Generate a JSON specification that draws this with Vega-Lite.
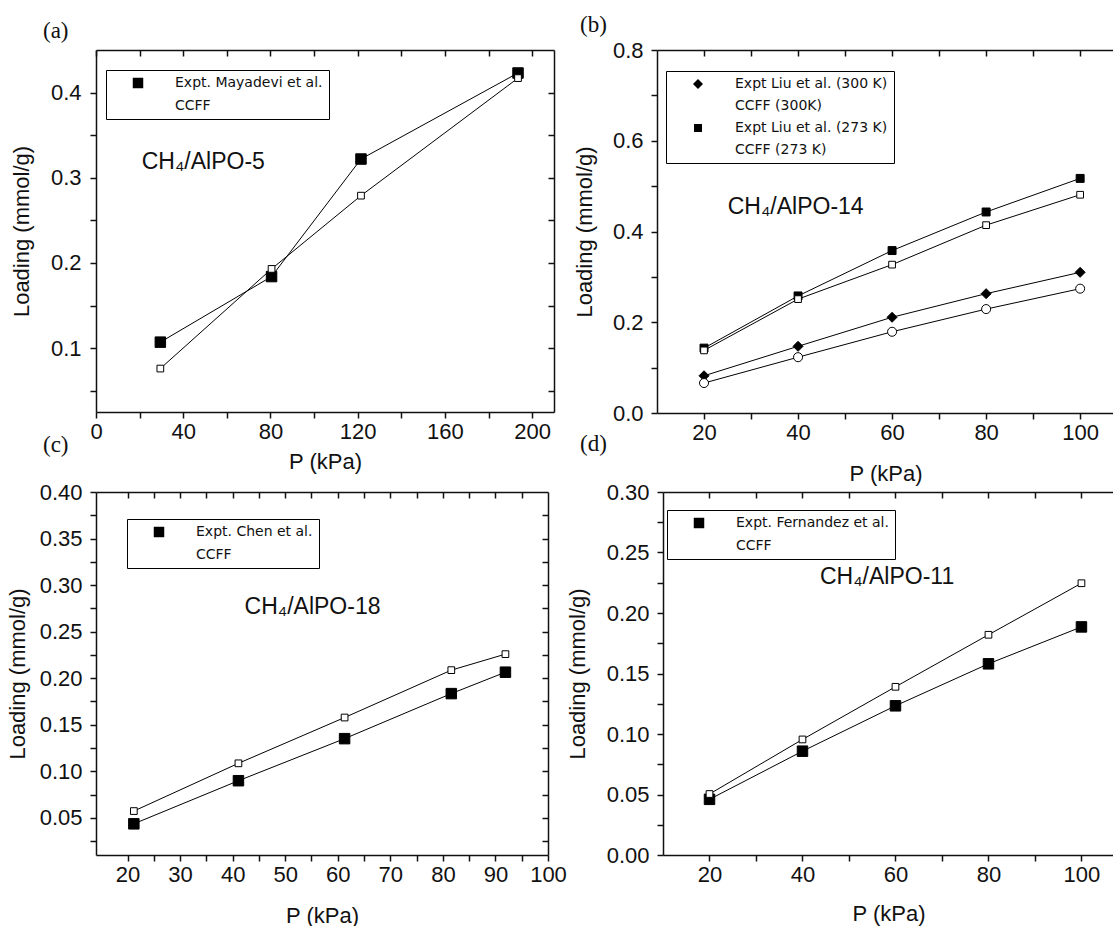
{
  "$schema": "https://vega.github.io/schema/vega-lite/v6.json",
  "background": "white",
  "padding": {"left": 6, "top": 14, "right": 0, "bottom": 0},
  "datasets": {
    "a": [
      {"P": 29.5, "L": 0.107, "s": "Expt. Mayadevi et al."},
      {"P": 80.5, "L": 0.184, "s": "Expt. Mayadevi et al."},
      {"P": 121.5, "L": 0.322, "s": "Expt. Mayadevi et al."},
      {"P": 193.5, "L": 0.423, "s": "Expt. Mayadevi et al."},
      {"P": 29.5, "L": 0.076, "s": "CCFF"},
      {"P": 80.5, "L": 0.193, "s": "CCFF"},
      {"P": 121.5, "L": 0.279, "s": "CCFF"},
      {"P": 193.5, "L": 0.417, "s": "CCFF"}
    ],
    "b": [
      {"P": 20, "L": 0.082, "s": "Expt Liu et al. (300 K)"},
      {"P": 40, "L": 0.147, "s": "Expt Liu et al. (300 K)"},
      {"P": 60, "L": 0.211, "s": "Expt Liu et al. (300 K)"},
      {"P": 80, "L": 0.263, "s": "Expt Liu et al. (300 K)"},
      {"P": 100, "L": 0.310, "s": "Expt Liu et al. (300 K)"},
      {"P": 20, "L": 0.066, "s": "CCFF (300K)"},
      {"P": 40, "L": 0.123, "s": "CCFF (300K)"},
      {"P": 60, "L": 0.179, "s": "CCFF (300K)"},
      {"P": 80, "L": 0.229, "s": "CCFF (300K)"},
      {"P": 100, "L": 0.274, "s": "CCFF (300K)"},
      {"P": 20, "L": 0.143, "s": "Expt Liu et al. (273 K)"},
      {"P": 40, "L": 0.258, "s": "Expt Liu et al. (273 K)"},
      {"P": 60, "L": 0.358, "s": "Expt Liu et al. (273 K)"},
      {"P": 80, "L": 0.443, "s": "Expt Liu et al. (273 K)"},
      {"P": 100, "L": 0.517, "s": "Expt Liu et al. (273 K)"},
      {"P": 20, "L": 0.138, "s": "CCFF (273 K)"},
      {"P": 40, "L": 0.251, "s": "CCFF (273 K)"},
      {"P": 60, "L": 0.327, "s": "CCFF (273 K)"},
      {"P": 80, "L": 0.414, "s": "CCFF (273 K)"},
      {"P": 100, "L": 0.481, "s": "CCFF (273 K)"}
    ],
    "c": [
      {"P": 21.2, "L": 0.0435, "s": "Expt. Chen et al."},
      {"P": 41.1, "L": 0.0898, "s": "Expt. Chen et al."},
      {"P": 61.3, "L": 0.135, "s": "Expt. Chen et al."},
      {"P": 81.6, "L": 0.1834, "s": "Expt. Chen et al."},
      {"P": 91.9, "L": 0.2064, "s": "Expt. Chen et al."},
      {"P": 21.2, "L": 0.0572, "s": "CCFF"},
      {"P": 41.1, "L": 0.1085, "s": "CCFF"},
      {"P": 61.3, "L": 0.1577, "s": "CCFF"},
      {"P": 81.6, "L": 0.2086, "s": "CCFF"},
      {"P": 91.9, "L": 0.2258, "s": "CCFF"}
    ],
    "d": [
      {"P": 20, "L": 0.046, "s": "Expt. Fernandez et al."},
      {"P": 40, "L": 0.0858, "s": "Expt. Fernandez et al."},
      {"P": 60, "L": 0.1233, "s": "Expt. Fernandez et al."},
      {"P": 80, "L": 0.158, "s": "Expt. Fernandez et al."},
      {"P": 100, "L": 0.1885, "s": "Expt. Fernandez et al."},
      {"P": 20, "L": 0.0504, "s": "CCFF"},
      {"P": 40, "L": 0.0955, "s": "CCFF"},
      {"P": 60, "L": 0.139, "s": "CCFF"},
      {"P": 80, "L": 0.182, "s": "CCFF"},
      {"P": 100, "L": 0.2246, "s": "CCFF"}
    ]
  },
  "config": {
    "view": {"stroke": null},
    "font": "Liberation Sans",
    "axis": {
      "domainColor": "#111", "domainWidth": 1.5, "tickColor": "#111", "tickWidth": 1.5, "tickSize": 6,
      "labelFont": "Liberation Sans", "labelFontSize": 22, "labelColor": "#111", "labelPadding": 3,
      "titleFont": "Liberation Sans", "titleFontSize": 22, "titleFontWeight": "normal", "titleColor": "#111",
      "grid": false, "labelOverlap": false, "labelFlush": false, "labelBound": false
    },
    "title": {"font": "Liberation Serif", "fontSize": 23, "fontWeight": "normal", "color": "#111", "anchor": "start", "frame": "group"},
    "legend": {
      "strokeColor": "black", "fillColor": "white", "padding": 6,
      "labelFont": "DejaVu Sans", "labelFontSize": 14, "labelColor": "#111", "labelLimit": 400,
      "labelOffset": 30, "symbolOffset": 19, "symbolSize": 100, "rowPadding": 8,
      "symbolStrokeColor": "black", "symbolStrokeWidth": 1
    }
  },
  "spacing": -51,
  "resolve": {
    "scale": {"shape": "independent", "fill": "independent", "size": "independent"},
    "legend": {"shape": "independent", "fill": "independent", "size": "independent"}
  },
  "vconcat": [
    {
      "bounds": "flush",
      "spacing": 103,
      "resolve": {
        "scale": {"shape": "independent", "fill": "independent", "size": "independent"},
        "legend": {"shape": "independent", "fill": "independent", "size": "independent"}
      },
      "hconcat": [
        {
          "width": 458, "height": 362,
          "title": {"text": "(a)", "dx": -53, "offset": 6},
          "data": {"name": "a"},
          "layer": [
            {
              "mark": {"type": "line", "color": "black", "strokeWidth": 1},
              "encoding": {
                "x": {"field": "P", "type": "quantitative", "scale": {"domain": [0, 210], "nice": false, "zero": false},
                  "axis": {"orient": "bottom", "title": "P (kPa)", "values": [0, 20, 40, 60, 80, 100, 120, 140, 160, 180, 200], "labelExpr": "datum.value % 40 === 0 ? datum.label : ''", "titlePadding": 9}},
                "y": {"field": "L", "type": "quantitative", "scale": {"domain": [0.025, 0.45], "nice": false, "zero": false},
                  "axis": {"orient": "left", "title": "Loading (mmol/g)", "values": [0.05, 0.1, 0.15, 0.2, 0.25, 0.3, 0.35, 0.4], "format": ".1f", "labelExpr": "abs(datum.value*10 - round(datum.value*10)) < 0.001 ? datum.label : ''", "labelPadding": 9, "titlePadding": 17}},
                "detail": {"field": "s", "type": "nominal"}
              }
            },
            {
              "mark": {"type": "point", "stroke": "black", "strokeWidth": 1, "opacity": 1},
              "encoding": {
                "x": {"field": "P", "type": "quantitative", "axis": {"orient": "top", "labels": false, "title": null, "tickSize": -6, "values": [0, 20, 40, 60, 80, 100, 120, 140, 160, 180, 200]}},
                "y": {"field": "L", "type": "quantitative", "axis": {"orient": "right", "labels": false, "title": null, "tickSize": -6, "values": [0.05, 0.1, 0.15, 0.2, 0.25, 0.3, 0.35, 0.4]}},
                "shape": {"field": "s", "type": "nominal", "scale": {"domain": ["Expt. Mayadevi et al.", "CCFF"], "range": ["square", "square"]},
                  "legend": {"title": null, "orient": "none", "legendX": 10, "legendY": 20}},
                "fill": {"field": "s", "type": "nominal", "scale": {"domain": ["Expt. Mayadevi et al.", "CCFF"], "range": ["black", "white"]},
                  "legend": {"title": null, "orient": "none", "legendX": 10, "legendY": 20}},
                "size": {"field": "s", "type": "nominal", "scale": {"domain": ["Expt. Mayadevi et al.", "CCFF"], "range": [110, 45]},
                  "legend": {"title": null, "orient": "none", "legendX": 10, "legendY": 20}}
              }
            },
            {
              "data": {"values": [{"label": "CH₄/AlPO-5"}]},
              "mark": {"type": "text", "font": "Liberation Sans", "fontSize": 23, "color": "#111", "align": "center", "baseline": "middle"},
              "encoding": {
                "x": {"datum": 49.2, "type": "quantitative", "axis": null},
                "y": {"datum": 0.319, "type": "quantitative", "axis": null},
                "text": {"field": "label", "type": "nominal"}
              }
            }
          ],
          "resolve": {"axis": {"x": "independent", "y": "independent"}}
        },
        {
          "width": 457, "height": 363,
          "title": {"text": "(b)", "dx": -77, "offset": 2},
          "data": {"name": "b"},
          "layer": [
            {
              "mark": {"type": "line", "color": "black", "strokeWidth": 1},
              "encoding": {
                "x": {"field": "P", "type": "quantitative", "scale": {"domain": [10, 107.2], "nice": false, "zero": false},
                  "axis": {"orient": "bottom", "title": "P (kPa)", "values": [20, 30, 40, 50, 60, 70, 80, 90, 100], "labelExpr": "datum.value % 20 === 0 ? datum.label : ''", "titlePadding": 20}},
                "y": {"field": "L", "type": "quantitative", "scale": {"domain": [0, 0.8], "nice": false, "zero": false},
                  "axis": {"orient": "left", "title": "Loading (mmol/g)", "values": [0, 0.1, 0.2, 0.3, 0.4, 0.5, 0.6, 0.7, 0.8], "format": ".1f", "labelExpr": "abs(datum.value*5 - round(datum.value*5)) < 0.001 ? datum.label : ''", "labelPadding": 8, "titlePadding": 16}},
                "detail": {"field": "s", "type": "nominal"}
              }
            },
            {
              "mark": {"type": "point", "stroke": "black", "strokeWidth": 1, "opacity": 1},
              "encoding": {
                "x": {"field": "P", "type": "quantitative", "axis": {"orient": "top", "labels": false, "title": null, "tickSize": -6, "values": [20, 30, 40, 50, 60, 70, 80, 90, 100]}},
                "y": {"field": "L", "type": "quantitative", "axis": null},
                "shape": {"field": "s", "type": "nominal", "scale": {"domain": ["Expt Liu et al. (300 K)", "CCFF (300K)", "Expt Liu et al. (273 K)", "CCFF (273 K)"], "range": ["diamond", "circle", "square", "square"]},
                  "legend": {"title": null, "orient": "none", "legendX": 9, "legendY": 21}},
                "fill": {"field": "s", "type": "nominal", "scale": {"domain": ["Expt Liu et al. (300 K)", "CCFF (300K)", "Expt Liu et al. (273 K)", "CCFF (273 K)"], "range": ["black", "white", "black", "white"]},
                  "legend": {"title": null, "orient": "none", "legendX": 9, "legendY": 21}},
                "size": {"field": "s", "type": "nominal", "scale": {"domain": ["Expt Liu et al. (300 K)", "CCFF (300K)", "Expt Liu et al. (273 K)", "CCFF (273 K)"], "range": [100, 45, 110, 45]},
                  "legend": {"title": null, "orient": "none", "legendX": 9, "legendY": 21}}
              }
            },
            {
              "data": {"values": [{"label": "CH₄/AlPO-14"}]},
              "mark": {"type": "text", "font": "Liberation Sans", "fontSize": 23, "color": "#111", "align": "center", "baseline": "middle"},
              "encoding": {
                "x": {"datum": 39.5, "type": "quantitative", "axis": null},
                "y": {"datum": 0.454, "type": "quantitative", "axis": null},
                "text": {"field": "label", "type": "nominal"}
              }
            }
          ],
          "resolve": {"axis": {"x": "independent", "y": "independent"}}
        }
      ]
    },
    {
      "bounds": "flush",
      "spacing": 115,
      "resolve": {
        "scale": {"shape": "independent", "fill": "independent", "size": "independent"},
        "legend": {"shape": "independent", "fill": "independent", "size": "independent"}
      },
      "hconcat": [
        {
          "width": 452, "height": 363,
          "title": {"text": "(c)", "dx": -53, "offset": 24},
          "data": {"name": "c"},
          "layer": [
            {
              "mark": {"type": "line", "color": "black", "strokeWidth": 1},
              "encoding": {
                "x": {"field": "P", "type": "quantitative", "scale": {"domain": [14, 100], "nice": false, "zero": false},
                  "axis": {"orient": "bottom", "title": "P (kPa)", "values": [20, 25, 30, 35, 40, 45, 50, 55, 60, 65, 70, 75, 80, 85, 90, 95, 100], "labelExpr": "datum.value % 10 === 0 ? datum.label : ''", "titlePadding": 20}},
                "y": {"field": "L", "type": "quantitative", "scale": {"domain": [0.01, 0.40], "nice": false, "zero": false},
                  "axis": {"orient": "left", "title": "Loading (mmol/g)", "values": [0.025, 0.05, 0.075, 0.1, 0.125, 0.15, 0.175, 0.2, 0.225, 0.25, 0.275, 0.3, 0.325, 0.35, 0.375, 0.4], "format": ".2f", "labelExpr": "abs(datum.value*20 - round(datum.value*20)) < 0.001 ? datum.label : ''", "labelPadding": 8, "titlePadding": 10}},
                "detail": {"field": "s", "type": "nominal"}
              }
            },
            {
              "mark": {"type": "point", "stroke": "black", "strokeWidth": 1, "opacity": 1},
              "encoding": {
                "x": {"field": "P", "type": "quantitative", "axis": {"orient": "top", "labels": false, "title": null, "tickSize": -6, "values": [20, 25, 30, 35, 40, 45, 50, 55, 60, 65, 70, 75, 80, 85, 90, 95]}},
                "y": {"field": "L", "type": "quantitative", "axis": {"orient": "right", "labels": false, "title": null, "tickSize": -6, "values": [0.025, 0.05, 0.075, 0.1, 0.125, 0.15, 0.175, 0.2, 0.225, 0.25, 0.275, 0.3, 0.325, 0.35, 0.375]}},
                "shape": {"field": "s", "type": "nominal", "scale": {"domain": ["Expt. Chen et al.", "CCFF"], "range": ["square", "square"]},
                  "legend": {"title": null, "orient": "none", "legendX": 31, "legendY": 27}},
                "fill": {"field": "s", "type": "nominal", "scale": {"domain": ["Expt. Chen et al.", "CCFF"], "range": ["black", "white"]},
                  "legend": {"title": null, "orient": "none", "legendX": 31, "legendY": 27}},
                "size": {"field": "s", "type": "nominal", "scale": {"domain": ["Expt. Chen et al.", "CCFF"], "range": [110, 45]},
                  "legend": {"title": null, "orient": "none", "legendX": 31, "legendY": 27}}
              }
            },
            {
              "data": {"values": [{"label": "CH₄/AlPO-18"}]},
              "mark": {"type": "text", "font": "Liberation Sans", "fontSize": 23, "color": "#111", "align": "center", "baseline": "middle"},
              "encoding": {
                "x": {"datum": 55.2, "type": "quantitative", "axis": null},
                "y": {"datum": 0.276, "type": "quantitative", "axis": null},
                "text": {"field": "label", "type": "nominal"}
              }
            }
          ],
          "resolve": {"axis": {"x": "independent", "y": "independent"}}
        },
        {
          "width": 451, "height": 363,
          "title": {"text": "(d)", "dx": -83, "offset": 25},
          "data": {"name": "d"},
          "layer": [
            {
              "mark": {"type": "line", "color": "black", "strokeWidth": 1},
              "encoding": {
                "x": {"field": "P", "type": "quantitative", "scale": {"domain": [10, 107], "nice": false, "zero": false},
                  "axis": {"orient": "bottom", "title": "P (kPa)", "values": [20, 30, 40, 50, 60, 70, 80, 90, 100], "labelExpr": "datum.value % 20 === 0 ? datum.label : ''", "titlePadding": 18}},
                "y": {"field": "L", "type": "quantitative", "scale": {"domain": [0, 0.30], "nice": false, "zero": false},
                  "axis": {"orient": "left", "title": "Loading (mmol/g)", "values": [0, 0.025, 0.05, 0.075, 0.1, 0.125, 0.15, 0.175, 0.2, 0.225, 0.25, 0.275, 0.3], "format": ".2f", "labelExpr": "abs(datum.value*20 - round(datum.value*20)) < 0.001 ? datum.label : ''", "labelPadding": 8, "titlePadding": 17}},
                "detail": {"field": "s", "type": "nominal"}
              }
            },
            {
              "mark": {"type": "point", "stroke": "black", "strokeWidth": 1, "opacity": 1},
              "encoding": {
                "x": {"field": "P", "type": "quantitative", "axis": {"orient": "top", "labels": false, "title": null, "tickSize": -6, "values": [20, 30, 40, 50, 60, 70, 80, 90, 100]}},
                "y": {"field": "L", "type": "quantitative", "axis": null},
                "shape": {"field": "s", "type": "nominal", "scale": {"domain": ["Expt. Fernandez et al.", "CCFF"], "range": ["square", "square"]},
                  "legend": {"title": null, "orient": "none", "legendX": 4, "legendY": 18}},
                "fill": {"field": "s", "type": "nominal", "scale": {"domain": ["Expt. Fernandez et al.", "CCFF"], "range": ["black", "white"]},
                  "legend": {"title": null, "orient": "none", "legendX": 4, "legendY": 18}},
                "size": {"field": "s", "type": "nominal", "scale": {"domain": ["Expt. Fernandez et al.", "CCFF"], "range": [110, 45]},
                  "legend": {"title": null, "orient": "none", "legendX": 4, "legendY": 18}}
              }
            },
            {
              "data": {"values": [{"label": "CH₄/AlPO-11"}]},
              "mark": {"type": "text", "font": "Liberation Sans", "fontSize": 23, "color": "#111", "align": "center", "baseline": "middle"},
              "encoding": {
                "x": {"datum": 58.2, "type": "quantitative", "axis": null},
                "y": {"datum": 0.2298, "type": "quantitative", "axis": null},
                "text": {"field": "label", "type": "nominal"}
              }
            }
          ],
          "resolve": {"axis": {"x": "independent", "y": "independent"}}
        }
      ]
    }
  ]
}
